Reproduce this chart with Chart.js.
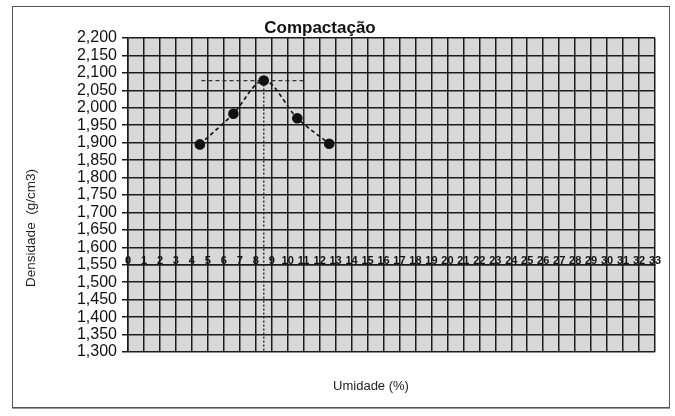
<!DOCTYPE html>
<html>
<head>
<meta charset="utf-8">
<script src="https://cdn.jsdelivr.net/npm/chart.js@4"></script>
<style>
  body { margin: 0; background: #fff; font-family: 'Liberation Sans', Arial, sans-serif; }
  #wrap { position: relative; width: 675px; height: 416px; }
  #c { position: absolute; left: 0; top: 0; }
  .frame { position: absolute; left: 12px; top: 6px; width: 656px; height: 400px; border: 1px solid #555; box-shadow: 0 1px 0 #999; }
  #title { position: absolute; left: 0; width: 640px; top: 18px; text-align: center; font-weight: bold; font-size: 17px; line-height: 20px; color: #111; }
  #ytitle { position: absolute; left: -69px; width: 200px; top: 220px; text-align: center; font-size: 13.5px; line-height: 16px; color: #222; transform: rotate(-90deg); white-space: pre; }
  #xtitle { position: absolute; left: 271px; width: 200px; top: 378px; text-align: center; font-size: 13px; line-height: 16px; color: #222; }
</style>
</head>
<body>
<div id="wrap">
  <canvas id="c" width="675" height="416"></canvas>
  <div class="frame"></div>
  <div id="title">Compactação</div>
  <div id="ytitle">Densidade  (g/cm3)</div>
  <div id="xtitle">Umidade (%)</div>
</div>
<script>
/* Compactação — curva de compactação */
const umidade = [4.5, 6.6, 8.5, 10.6, 12.6];
const densidade = [1895, 1983, 2078, 1970, 1897];
const maxLineX = [4.6, 11.1];
const maxLineY = [2078, 2078];
const otimaX = [8.5, 8.5];
const otimaY = [2078, 1300];
const yMin = 1300, yMax = 2200, yStep = 50;
const xMin = 0, xMax = 33, xStep = 1;
const xAxisAt = 1550;

const INK = '#111';
const GRID = '#1c1c1c';

const toPts = (xs, ys) => xs.map((x, i) => ({ x, y: ys[i] }));

const plotBg = {
  id: 'plotBg',
  beforeDraw(chart) {
    const { ctx, chartArea: a } = chart;
    ctx.save();
    ctx.fillStyle = '#d8d8d8';
    ctx.fillRect(a.left, a.top, a.right - a.left, a.bottom - a.top);
    ctx.restore();
  }
};

new Chart(document.getElementById('c'), {
  type: 'scatter',
  data: {
    datasets: [
      {
        data: toPts(umidade, densidade),
        showLine: true, cubicInterpolationMode: 'monotone',
        borderColor: INK, borderWidth: 1.6, borderDash: [4, 3],
        pointRadius: 4.5, pointBackgroundColor: INK, pointBorderColor: INK,
      },
      {
        data: toPts(maxLineX, maxLineY),
        showLine: true, borderColor: '#333', borderWidth: 1.3, borderDash: [4, 3],
        pointRadius: 0,
      },
      {
        data: toPts(otimaX, otimaY),
        showLine: true, borderColor: '#333', borderWidth: 1.5, borderDash: [2, 2],
        pointRadius: 0,
      },
    ]
  },
  options: {
    responsive: false, animation: false,
    layout: { padding: { left: 58, right: 20, top: 38, bottom: 64 } },
    plugins: { legend: { display: false }, tooltip: { enabled: false }, title: { display: false } },
    scales: {
      x: {
        type: 'linear', min: xMin, max: xMax,
        position: { y: xAxisAt },
        grid: { color: GRID, lineWidth: 1.5, drawTicks: false },
        border: { color: GRID, width: 1.5 },
        ticks: {
          stepSize: xStep, autoSkip: false, maxRotation: 0, padding: -10,
          color: INK, font: { family: 'Liberation Sans', size: 11, weight: 'bold' },
        },
      },
      y: {
        min: yMin, max: yMax,
        afterFit: s => { s.width = 70; },
        grid: { color: GRID, lineWidth: 1.5, tickLength: 6 },
        border: { color: GRID, width: 1.5 },
        ticks: {
          stepSize: yStep, autoSkip: false, padding: 5, color: INK,
          font: { family: 'Liberation Sans', size: 16, lineHeight: 1 },
          callback: v => v.toLocaleString('en-US'),
        },
      },
    },
  },
  plugins: [plotBg],
});
</script>
</body>
</html>
